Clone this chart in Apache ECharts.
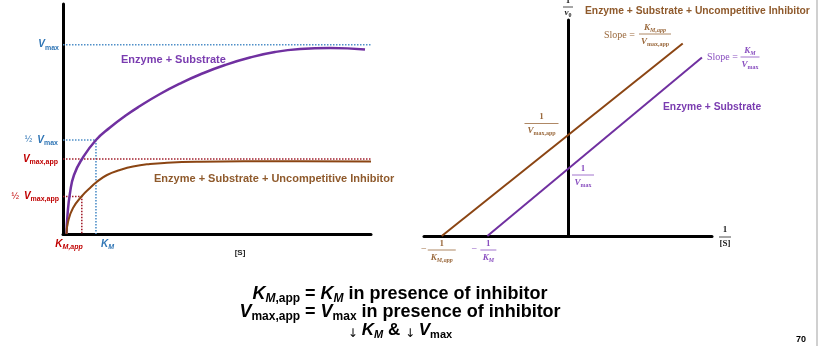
<!DOCTYPE html>
<html><head><meta charset="utf-8">
<script src="https://cdn.jsdelivr.net/npm/echarts@6/dist/echarts.min.js"></script>
<style>html,body{margin:0;padding:0;background:#fff}#c{width:820px;height:346px}</style>
</head><body><div id="c"></div>
<script>
// ---- Left panel: Michaelis–Menten curves (arbitrary units) ----
const mmSubstrate  = [1.14, 1.46, 2.27, 3.57, 6.17, 10.71, 15.26, 20.13, 25.0, 31.49, 37.99, 44.48, 52.6, 60.71, 68.83, 76.95, 86.69, 98.05];
const mmVelocity   = [0, 8.26, 17.83, 25.65, 32.61, 40.87, 46.3, 51.3, 55.65, 60.87, 65.43, 69.35, 73.48, 76.74, 79.13, 80.43, 80.87, 80.22];
const inhSubstrate = [1.14, 1.62, 3.25, 6.17, 8.77, 10.71, 14.29, 18.51, 22.73, 28.25, 33.77, 44.48, 60.71, 76.95, 100];
const inhVelocity  = [0, 5.22, 11.3, 16.52, 20.0, 22.39, 25.65, 27.83, 29.35, 30.43, 30.96, 31.39, 31.61, 31.65, 31.52];
const Vmax = 82.3, halfVmax = 40.9, KM = 10.7;
const VmaxApp = 32.6, halfVmaxApp = 16.3, KMApp = 6.1;
const mmXRange = [0, 100], mmYRange = [0, 100];

// ---- Right panel: Lineweaver–Burk lines (1/[S], 1/v0) ----
const lbInvS_noInh = [-1.68, 2.79];
const lbInvV_noInh = [0, 3.72];
const lbInvS_inh   = [-2.63, 2.39];
const lbInvV_inh   = [0, 4.01];
const lbXRange = [-3, 3], lbYRange = [0, 4.5];

const SANS = '"Liberation Sans", Arial, sans-serif';
const SERIF = '"Liberation Serif", "DejaVu Serif", serif';
const col = {
  purple: '#7030a0', brown: '#8b4513', blue: '#2f75b5', red: '#c00000',
  blueDot: '#4f8fc8', redDot: '#a3202e', brownTxt: '#8f5a2c', purpleTxt: '#7a3cb0',
  brownSerif: '#9b6a3e', purpleSerif: '#8a50c0'
};
const zip = (a, b) => a.map((v, i) => [v, b[i]]);

const chart = echarts.init(document.getElementById('c'), null, {renderer: 'canvas'});
const axisBase = (extra) => Object.assign({
  type: 'value', axisTick: {show: false}, axisLabel: {show: false},
  splitLine: {show: false}, axisLine: {show: true, lineStyle: {color: '#000', width: 3}}
}, extra);

const dotted = (data, color, gi) => ({
  type: 'line', xAxisIndex: gi, yAxisIndex: gi, data, symbol: 'none', silent: true,
  lineStyle: {color, width: 1.6, type: [1.5, 1.5]}, z: 1
});

chart.setOption({
  animation: false,
  grid: [
    {left: 63, top: 4, width: 308, height: 230},
    {left: 424, top: 20, width: 288, height: 216}
  ],
  xAxis: [
    axisBase({gridIndex: 0, min: mmXRange[0], max: mmXRange[1]}),
    axisBase({gridIndex: 1, min: lbXRange[0], max: lbXRange[1]})
  ],
  yAxis: [
    axisBase({gridIndex: 0, min: mmYRange[0], max: mmYRange[1]}),
    axisBase({gridIndex: 1, min: lbYRange[0], max: lbYRange[1],
      axisLine: {show: true, onZero: true, lineStyle: {color: '#000', width: 3}}})
  ],
  series: [
    dotted([[mmXRange[0], Vmax], [mmXRange[1], Vmax]], col.blueDot, 0),
    dotted([[mmXRange[0], halfVmax], [KM, halfVmax], [KM, 0]], col.blueDot, 0),
    dotted([[mmXRange[0], VmaxApp], [mmXRange[1], VmaxApp]], col.redDot, 0),
    dotted([[mmXRange[0], halfVmaxApp], [KMApp, halfVmaxApp], [KMApp, 0]], col.redDot, 0),
    {type: 'line', xAxisIndex: 0, yAxisIndex: 0, data: zip(mmSubstrate, mmVelocity),
     smooth: 0.5, symbol: 'none', lineStyle: {color: col.purple, width: 2.5}, z: 3},
    {type: 'line', xAxisIndex: 0, yAxisIndex: 0, data: zip(inhSubstrate, inhVelocity),
     smooth: 0.5, symbol: 'none', lineStyle: {color: col.brown, width: 2}, z: 3},
    {type: 'line', xAxisIndex: 1, yAxisIndex: 1, data: zip(lbInvS_inh, lbInvV_inh),
     symbol: 'none', lineStyle: {color: col.brown, width: 2}, z: 3},
    {type: 'line', xAxisIndex: 1, yAxisIndex: 1, data: zip(lbInvS_noInh, lbInvV_noInh),
     symbol: 'none', lineStyle: {color: col.purple, width: 2}, z: 3}
  ]
});

const P0 = (x, y) => chart.convertToPixel({gridIndex: 0}, [x, y]);
const P1 = (x, y) => chart.convertToPixel({gridIndex: 1}, [x, y]);

// rich-text helpers
function sansStyles(color, big, small) {
  return {
    I: {fontFamily: SANS, fontSize: big, fontWeight: 'bold', fontStyle: 'italic', fill: color, lineHeight: big + 3},
    N: {fontFamily: SANS, fontSize: big, fontWeight: 'bold', fill: color, lineHeight: big + 3},
    H: {fontFamily: SANS, fontSize: big - 1, fontWeight: 'normal', fill: color, lineHeight: big + 3},
    sI: {fontFamily: SANS, fontSize: small, fontWeight: 'bold', fontStyle: 'italic', fill: color, lineHeight: small + 1, verticalAlign: 'bottom'},
    s: {fontFamily: SANS, fontSize: small, fontWeight: 'bold', fill: color, lineHeight: small + 1, verticalAlign: 'bottom'},
    a: {fontFamily: '"DejaVu Sans", sans-serif', fontSize: small + 1, fill: color, lineHeight: small + 1, verticalAlign: 'bottom'}
  };
}
function serifStyles(color, big, small) {
  return {
    I: {fontFamily: SERIF, fontSize: big, fontStyle: 'italic', fontWeight: 'bold', fill: color, lineHeight: big + 2},
    N: {fontFamily: SERIF, fontSize: big, fontWeight: 'bold', fill: color, lineHeight: big + 2},
    R: {fontFamily: SERIF, fontSize: big + 1, fill: color, lineHeight: big + 2},
    sI: {fontFamily: SERIF, fontSize: small, fontStyle: 'italic', fontWeight: 'bold', fill: color, lineHeight: small + 1, verticalAlign: 'bottom'},
    s: {fontFamily: SERIF, fontSize: small, fontWeight: 'bold', fill: color, lineHeight: small + 1, verticalAlign: 'bottom'}
  };
}
function txt(x, y, text, rich, align, vAlign) {
  return {type: 'text', x, y, z: 10, silent: true,
    style: {text, rich, align: align || 'left', verticalAlign: vAlign || 'middle'}};
}
function plain(x, y, text, font, fill, align) {
  return {type: 'text', x, y, z: 10, silent: true,
    style: {text, font, fill, align: align || 'left', verticalAlign: 'middle'}};
}
function frac(cx, cy, num, den, rich, color, w, up, down) {
  return {type: 'group', x: cx, y: cy, children: [
    txt(0, -up, num, rich, 'center'),
    {type: 'line', z: 10, shape: {x1: -w / 2, y1: 0, x2: w / 2, y2: 0}, style: {stroke: color, lineWidth: 0.8}},
    txt(0, down, den, rich, 'center')
  ]};
}

const gBlue = sansStyles(col.blue, 10, 7);
const gRed = sansStyles(col.red, 10, 7);
const ax0 = P0(0, 0);
const g = [];
// left axis labels
g.push(txt(ax0[0] - 4, P0(0, Vmax)[1], '{I|V}{s|max}', gBlue, 'right'));
g.push(txt(ax0[0] - 5, P0(0, halfVmax)[1], '{H|½  }{I|V}{s|max}', gBlue, 'right'));
g.push(txt(ax0[0] - 5, P0(0, VmaxApp)[1], '{I|V}{s|max,app}', gRed, 'right'));
g.push(txt(ax0[0] - 4, P0(0, halfVmaxApp)[1], '{H|½  }{I|V}{s|max,app}', gRed, 'right'));
g.push(txt(P0(KMApp, 0)[0] + 1, ax0[1] + 10, '{I|K}{sI|M,app}', gRed, 'right'));
g.push(txt(P0(KM, 0)[0] + 5, ax0[1] + 10, '{I|K}{sI|M}', gBlue, 'left'));
g.push(plain(240, 253, '[S]', 'bold 8px ' + SANS, '#222', 'center'));
g.push(plain(121, 60, 'Enzyme + Substrate', 'bold 11px ' + SANS, col.purpleTxt));
g.push(plain(154, 179, 'Enzyme + Substrate + Uncompetitive Inhibitor', 'bold 11px ' + SANS, col.brownTxt));

// right panel labels
const sBlack = serifStyles('#222', 9, 6);
const sBrown = serifStyles(col.brownSerif, 9, 6);
const sPurple = serifStyles(col.purpleSerif, 9, 6);
const yAx = P1(0, 0)[0];
g.push(frac(yAx, 7, '{N|1}', '{I|v}{s|0}', sBlack, '#222', 10, 6, 6));
g.push(plain(585, 11, 'Enzyme + Substrate + Uncompetitive Inhibitor', 'bold 10.3px ' + SANS, col.brownTxt));
g.push(txt(604, 35, '{R|Slope =}', sBrown, 'left'));
g.push(frac(655, 34, '{I|K}{sI|M,app}', '{I|V}{s|max,app}', sBrown, col.brownSerif, 32, 6, 8));
g.push(txt(707, 57, '{R|Slope =}', sPurple, 'left'));
g.push(frac(750, 57, '{I|K}{sI|M}', '{I|V}{s|max}', sPurple, col.purpleSerif, 19, 6, 8));
g.push(plain(663, 107, 'Enzyme + Substrate', 'bold 10.3px ' + SANS, col.purpleTxt));
g.push(frac(541.5, 123.5, '{N|1}', '{I|V}{s|max,app}', sBrown, col.brownSerif, 34, 7, 7));
g.push(frac(583, 175, '{N|1}', '{I|V}{s|max}', sPurple, col.purpleSerif, 22, 6, 8));
const xInh = P1(lbInvS_inh[0], 0), xNo = P1(lbInvS_noInh[0], 0);
g.push(txt(xInh[0] - 18, xInh[1] + 13, '{R|−}', sBrown, 'center'));
g.push(frac(xInh[0], xInh[1] + 14, '{N|1}', '{I|K}{sI|M,app}', sBrown, col.brownSerif, 28, 6, 8));
g.push(txt(xNo[0] - 13, xNo[1] + 13, '{R|−}', sPurple, 'center'));
g.push(frac(xNo[0] + 1, xNo[1] + 14, '{N|1}', '{I|K}{sI|M}', sPurple, col.purpleSerif, 16, 6, 8));
g.push(frac(725, 237, '{N|1}', '{N|[S]}', sBlack, '#222', 12, 7, 7));

// bottom caption
const cap = sansStyles('#000', 18, 12);
const capA = sansStyles('#000', 17, 11);
g.push(txt(400, 294, '{I|K}{sI|M}{s|,app}{N| = }{I|K}{sI|M}{N| in presence of inhibitor}', cap, 'center'));
g.push(txt(400, 312, '{I|V}{s|max,app}{N| = }{I|V}{s|max}{N| in presence of inhibitor}', cap, 'center'));
g.push(txt(400, 330, '{a|↓ }{I|K}{sI|M}{N| & }{a|↓ }{I|V}{s|max}', capA, 'center'));
g.push(plain(801, 340, '70', 'bold 9px ' + SANS, '#000', 'center'));
g.push({type: 'line', z: 10, shape: {x1: 817, y1: 0, x2: 817, y2: 346}, style: {stroke: '#d0d0d0', lineWidth: 2}});

chart.setOption({graphic: g});
</script>
</body></html>
